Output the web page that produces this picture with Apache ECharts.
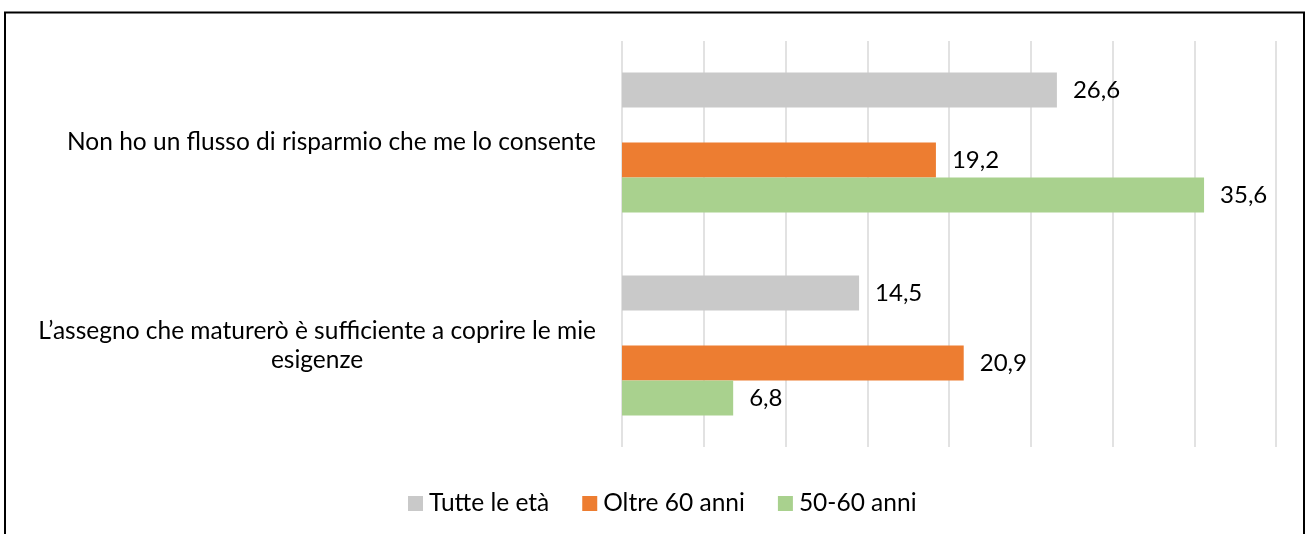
<!DOCTYPE html>
<html>
<head>
<meta charset="utf-8">
<script src="https://cdn.jsdelivr.net/npm/echarts@6/dist/echarts.min.js"></script>
<style>
  html, body { margin: 0; padding: 0; background: #fff; }
  #chart { width: 1306px; height: 534px; }
</style>
</head>
<body>
<div id="chart"></div>
<script>
// categorie e serie
const categories = [
  "Non ho un flusso di risparmio che me lo consente",
  "L’assegno che maturerò è sufficiente a coprire le mie esigenze"
];
const tutteLeEta = [26.6, 14.5];
const oltre60 = [19.2, 20.9];
const da50a60 = [35.6, 6.8];

const FONT = "Lato";

// manda a capo le etichette lunghe
const wrap = (text, max) => {
  const words = text.split(" ");
  const lines = [];
  let line = "";
  words.forEach((w) => {
    if (line && (line + " " + w).length > max) {
      lines.push(line);
      line = w;
    } else {
      line = line ? line + " " + w : w;
    }
  });
  if (line) lines.push(line);
  return lines;
};

const chart = echarts.init(document.getElementById("chart"));

const labelStyle = {
  show: true,
  position: "right",
  distance: 16,
  fontSize: 24,
  fontFamily: FONT,
  color: "#000",
  formatter: (p) => String(p.value).replace(".", ",")
};

const option = {
  animation: false,
  backgroundColor: "#fff",
  graphic: [
    {
      type: "rect",
      shape: { x: 5, y: 12.5, width: 1299, height: 600 },
      style: { fill: "none", stroke: "#000", lineWidth: 2 },
      silent: true
    }
  ],
  legend: {
    data: ["Tutte le età", "Oltre 60 anni", "50-60 anni"],
    left: 403,
    top: 486,
    icon: "rect",
    itemWidth: 15,
    itemHeight: 15,
    itemGap: 33,
    textStyle: { fontSize: 24.5, fontFamily: FONT, color: "#000", padding: [0, 0, 0, 1] }
  },
  grid: { left: 622, right: 30, top: 41, bottom: 87, containLabel: false },
  xAxis: {
    type: "value",
    min: 0,
    max: 40,
    interval: 5,
    axisLabel: { show: false },
    axisLine: { show: false },
    axisTick: { show: false },
    splitLine: { show: true, lineStyle: { color: "#d9d9d9", width: 1.5 } }
  },
  yAxis: {
    type: "category",
    inverse: true,
    data: categories,
    axisLine: { show: false },
    axisTick: { show: false },
    axisLabel: {
      margin: 26,
      formatter: (v) => wrap(v, 55).map((l) => "{c|" + l + "}").join("\n"),
      rich: {
        c: { align: "center", fontSize: 24.5, lineHeight: 29, fontFamily: FONT, color: "#000" }
      }
    }
  },
  series: [
    {
      name: "Tutte le età",
      type: "bar",
      data: tutteLeEta,
      barGap: "0%",
      barCategoryGap: "31%",
      itemStyle: { color: "#c9c9c9" },
      label: labelStyle
    },
    {
      // serie vuota (spazio tra le barre come nell'originale)
      name: "",
      type: "bar",
      data: [null, null],
      itemStyle: { color: "transparent" }
    },
    {
      name: "Oltre 60 anni",
      type: "bar",
      data: oltre60,
      itemStyle: { color: "#ed7d31" },
      label: labelStyle
    },
    {
      name: "50-60 anni",
      type: "bar",
      data: da50a60,
      itemStyle: { color: "#a9d18e" },
      label: labelStyle
    }
  ]
};

chart.setOption(option);

window.addEventListener("resize", () => {
  chart.resize();
});
</script>
</body>
</html>
